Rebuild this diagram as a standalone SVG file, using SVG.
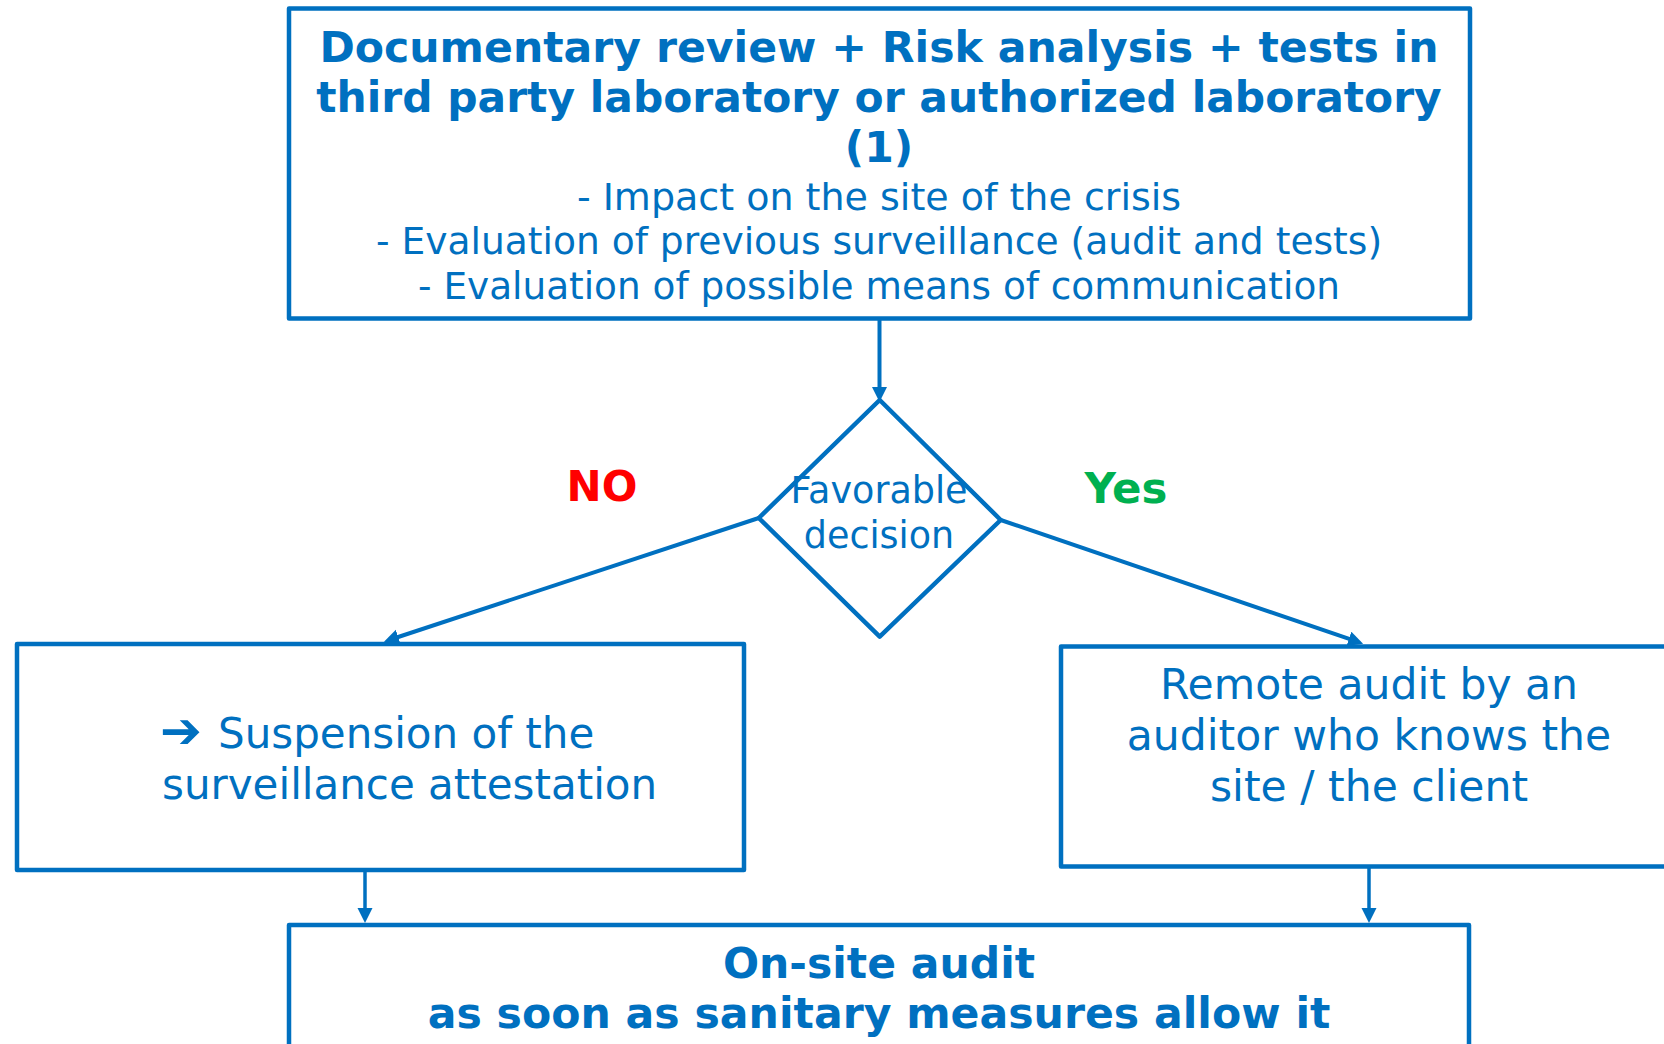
<svg xmlns="http://www.w3.org/2000/svg" width="1664" height="1044" viewBox="0 0 1664 1044">
<defs>
<marker id="ah" markerUnits="userSpaceOnUse" markerWidth="16" markerHeight="16" viewBox="0 0 16 16" refX="8" refY="7.5" orient="auto">
<path d="M0,0 L15,7.5 L0,15 z" fill="#0070C0"/>
</marker>
<style>
.box{fill:#fff;stroke:#0070C0;stroke-width:4.5;stroke-linejoin:round}
.con{fill:none;stroke:#0070C0;stroke-width:4}
.b{font-family:"DejaVu Sans",Verdana,sans-serif;font-weight:bold;fill:#0070C0;text-anchor:middle}
.r{font-family:"DejaVu Sans",Verdana,sans-serif;fill:#0070C0}
</style>
</defs>
<rect width="1664" height="1044" fill="#fff"/>
<g id="connectors">
<path class="con" d="M879.5,318 L879.5,395" marker-end="url(#ah)"/>
<path class="con" d="M758.8,518 L390.6,639.5" marker-end="url(#ah)"/>
<path class="con" d="M1000.7,520 L1356.5,641.4" marker-end="url(#ah)"/>
<path class="con" style="stroke-width:3.5" d="M365,870 L365,916" marker-end="url(#ah)"/>
<path class="con" style="stroke-width:3.5" d="M1369,867 L1369,916" marker-end="url(#ah)"/>
</g>
<g id="node-top">
<rect class="box" x="289" y="8.5" width="1181" height="310"/>
<text class="b" font-size="42.6" x="879" y="61.5">Documentary review + Risk analysis + tests in</text>
<text class="b" font-size="42.4" x="879" y="111.5">third party laboratory or authorized laboratory</text>
<text class="b" font-size="42.5" x="879" y="161.5">(1)</text>
<text class="r" font-size="38" x="879" y="209.5" text-anchor="middle">- Impact on the site of the crisis</text>
<text class="r" font-size="37.6" x="879" y="254" text-anchor="middle">- Evaluation of previous surveillance (audit and tests)</text>
<text class="r" font-size="37.4" x="879" y="298.5" text-anchor="middle">- Evaluation of possible means of communication</text>
</g>
<g id="node-decision">
<path class="box" d="M879.7,400 L1000.7,520 L879.7,636.7 L758.8,518 z"/>
<text class="r" font-size="36.5" x="879" y="503" text-anchor="middle">Favorable</text>
<text class="r" font-size="36.5" x="879" y="547.5" text-anchor="middle">decision</text>
</g>
<g id="label-no">
<text class="b" font-size="42" x="602" y="501" style="fill:#FF0000">NO</text>
</g>
<g id="label-yes">
<text class="b" font-size="43.5" x="1126" y="503" style="fill:#00B050">Yes</text>
</g>
<g id="node-suspension">
<rect class="box" x="17" y="644" width="727" height="226"/>
<text class="r" font-size="42" x="160" y="748"><tspan font-weight="bold" font-size="50">➔</tspan><tspan x="218">Suspension of the</tspan></text>
<text class="r" font-size="42" x="162" y="799">surveillance attestation</text>
</g>
<g id="node-remote">
<rect class="box" x="1061" y="646.5" width="640" height="220"/>
<text class="r" font-size="42.5" x="1369" y="699" text-anchor="middle">Remote audit by an</text>
<text class="r" font-size="42.5" x="1369" y="749.5" text-anchor="middle">auditor who knows the</text>
<text class="r" font-size="42.5" x="1369" y="801" text-anchor="middle">site / the client</text>
</g>
<g id="node-onsite">
<rect class="box" x="289" y="925" width="1180" height="200"/>
<text class="b" font-size="42.5" x="879" y="977.5">On-site audit</text>
<text class="b" font-size="42.6" x="879" y="1028">as soon as sanitary measures allow it</text>
</g>
</svg>
